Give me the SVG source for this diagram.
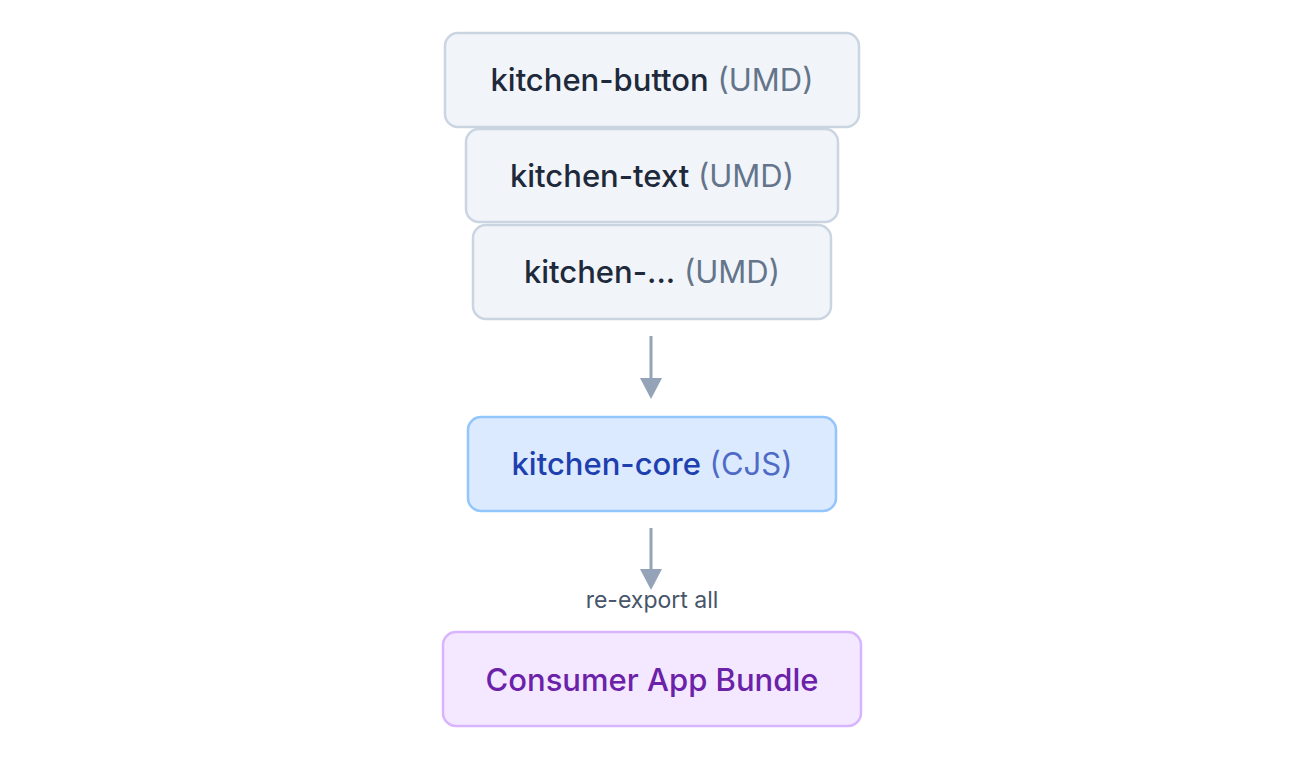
<svg xmlns="http://www.w3.org/2000/svg" width="1302" height="758" viewBox="0 0 1302 758">
<defs>
<style>
.t{font-family:Inter,"Noto Sans","Liberation Sans",sans-serif;font-size:31px;text-anchor:middle;}
.m{font-weight:500;}
.umd{fill:#f1f5f9;stroke:#cbd5e1;stroke-width:2.5;}
.dark{fill:#1e293b;}
.grey{fill:#64748b;}
.edge{stroke:#94a3b8;stroke-width:3;fill:none;}
</style>
</defs>
<rect width="1302" height="758" fill="#ffffff"/>
<g id="n-button">
<rect class="umd" x="445" y="33" width="414" height="94" rx="13"/>
<text class="t" x="652" y="91"><tspan class="m dark">kitchen-button</tspan><tspan class="grey"> (UMD)</tspan></text>
</g>
<g id="n-text">
<rect class="umd" x="466" y="129" width="372" height="93" rx="13"/>
<text class="t" x="652" y="187"><tspan class="m dark">kitchen-text</tspan><tspan class="grey"> (UMD)</tspan></text>
</g>
<g id="n-more">
<rect class="umd" x="473" y="225" width="358" height="94" rx="13"/>
<text class="t" x="652" y="283"><tspan class="m dark">kitchen-...</tspan><tspan class="grey"> (UMD)</tspan></text>
</g>
<g id="connectors">
<line class="edge" x1="651" y1="336" x2="651" y2="379"/>
<path d="M640,378 L662,378 L651,399 z" fill="#94a3b8"/>
<line class="edge" x1="651" y1="528" x2="651" y2="570"/>
<path d="M640,569 L662,569 L651,590 z" fill="#94a3b8"/>
<text x="652" y="608" style="font-family:Inter,'Noto Sans','Liberation Sans',sans-serif;font-size:23px;text-anchor:middle;fill:#475569">re-export all</text>
</g>
<g id="n-core">
<rect x="468" y="417" width="368" height="94" rx="13" fill="#dbeafe" stroke="#93c5fd" stroke-width="2.5"/>
<text class="t" x="652" y="475"><tspan class="m" fill="#1e40af">kitchen-core</tspan><tspan fill="#4f6bc7"> (CJS)</tspan></text>
</g>
<g id="n-consumer">
<rect x="443" y="632" width="418" height="94" rx="13" fill="#f3e8ff" stroke="#d8b4fe" stroke-width="2.5"/>
<text class="t m" x="652" y="691" fill="#6b21a8">Consumer App Bundle</text>
</g>
</svg>
